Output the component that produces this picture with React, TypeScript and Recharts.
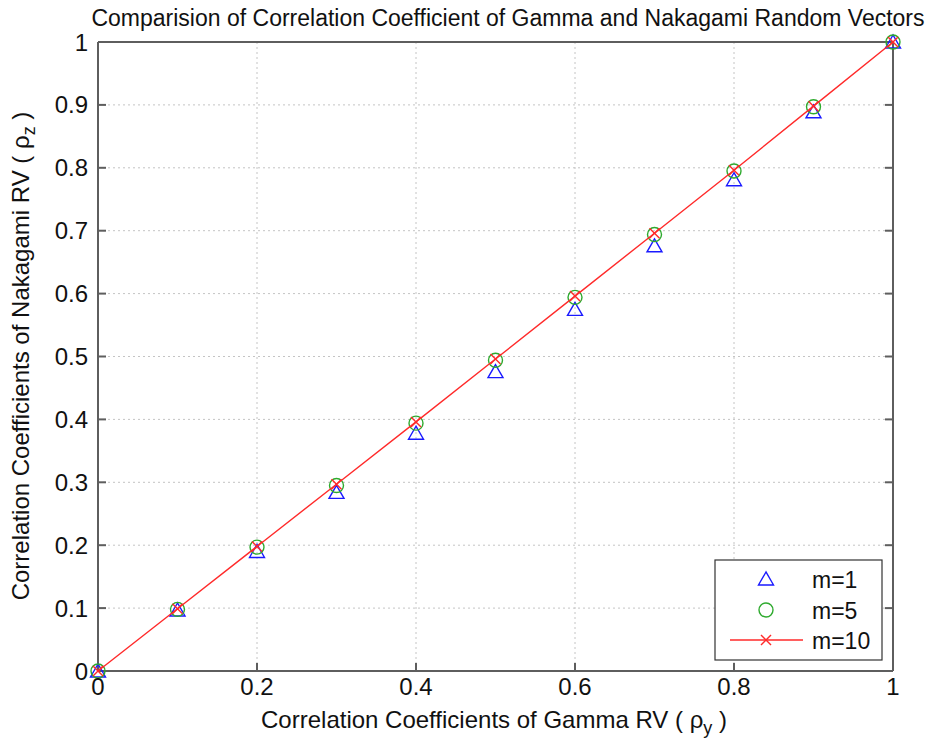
import React from 'react';
import { ScatterChart, Scatter, XAxis, YAxis, CartesianGrid } from 'recharts';

// correlation of the Gamma vectors (x) and the resulting Nakagami correlation (y)
const rhoY = [0, 0.1, 0.2, 0.3, 0.4, 0.5, 0.6, 0.7, 0.8, 0.9, 1];
const rhoZm1 = [0, 0.097, 0.19, 0.284, 0.378, 0.476, 0.575, 0.676, 0.781, 0.889, 1];
const rhoZm5 = [0, 0.098, 0.197, 0.295, 0.394, 0.494, 0.594, 0.694, 0.795, 0.897, 1];
const rhoZm10 = [0, 0.099, 0.198, 0.297, 0.396, 0.496, 0.596, 0.696, 0.796, 0.898, 1];

const xTicks = [0, 0.2, 0.4, 0.6, 0.8, 1];
const yTicks = [0, 0.1, 0.2, 0.3, 0.4, 0.5, 0.6, 0.7, 0.8, 0.9, 1];

const toPoints = (ys: number[]) => rhoY.map((x, i) => ({ x, y: ys[i] }));
const m1 = toPoints(rhoZm1);
const m5 = toPoints(rhoZm5);
const m10 = toPoints(rhoZm10);

const FONT = '"Liberation Sans", Arial, Helvetica, sans-serif';
const AXIS = '#5e5e5e';
const BLUE = '#1a1aff';
const GREEN = '#2eaa2e';
const RED = '#ff2a2a';

const Triangle = ({ cx, cy }: any) => (
  <polygon
    points={`${cx},${cy - 7} ${cx - 7.5},${cy + 6} ${cx + 7.5},${cy + 6}`}
    fill="none"
    stroke={BLUE}
    strokeWidth={1.4}
  />
);

const Ring = ({ cx, cy }: any) => (
  <circle cx={cx} cy={cy} r={7} fill="none" stroke={GREEN} strokeWidth={1.4} />
);

const Cross = ({ cx, cy }: any) => (
  <g stroke={RED} strokeWidth={1.4}>
    <line x1={cx - 5} y1={cy - 5} x2={cx + 5} y2={cy + 5} />
    <line x1={cx - 5} y1={cy + 5} x2={cx + 5} y2={cy - 5} />
  </g>
);

// top/right box axes keep their tick marks but show no labels
const NoLabel = () => <g />;

const tickFont = { fontSize: 24, fill: '#111', fontFamily: FONT };
const axisLine = { stroke: AXIS, strokeWidth: 2 };
const tickLine = { stroke: AXIS, strokeWidth: 2 };

const App = () => (
  <div style={{ position: 'absolute', left: 0, top: 0, width: 938, height: 747, background: '#fff' }}>
    <ScatterChart width={938} height={747} margin={{ top: 41, right: 44, bottom: 46, left: 58 }}>
      <CartesianGrid xAxisId="bottom" yAxisId="left" stroke="#c4c4c4" strokeDasharray="2 3" />
      <XAxis
        xAxisId="bottom"
        dataKey="x"
        type="number"
        domain={[0, 1]}
        ticks={xTicks}
        height={30}
        tickSize={-8}
        tickMargin={15}
        axisLine={axisLine}
        tickLine={tickLine}
        tick={tickFont}
      />
      <XAxis
        xAxisId="top"
        orientation="top"
        type="number"
        domain={[0, 1]}
        ticks={xTicks}
        allowDataOverflow
        height={1}
        tickSize={-8}
        axisLine={axisLine}
        tickLine={tickLine}
        tick={NoLabel}
      />
      <YAxis
        yAxisId="left"
        dataKey="y"
        type="number"
        domain={[0, 1]}
        ticks={yTicks}
        width={40}
        tickSize={-8}
        tickMargin={18}
        axisLine={axisLine}
        tickLine={tickLine}
        tick={tickFont}
      />
      <YAxis
        yAxisId="right"
        orientation="right"
        type="number"
        domain={[0, 1]}
        ticks={yTicks}
        allowDataOverflow
        width={1}
        tickSize={-8}
        axisLine={axisLine}
        tickLine={tickLine}
        tick={NoLabel}
      />
      <Scatter name="m=1" data={m1} xAxisId="bottom" yAxisId="left" shape={Triangle} isAnimationActive={false} />
      <Scatter name="m=5" data={m5} xAxisId="bottom" yAxisId="left" shape={Ring} isAnimationActive={false} />
      <Scatter
        name="m=10"
        data={m10}
        xAxisId="bottom"
        yAxisId="left"
        shape={Cross}
        line={{ stroke: RED, strokeWidth: 1.4 }}
        lineType="joint"
        isAnimationActive={false}
      />
    </ScatterChart>

    {/* title, axis labels and legend box */}
    <svg
      width={938}
      height={747}
      style={{ position: 'absolute', left: 0, top: 0, pointerEvents: 'none' }}
      fontFamily={FONT}
    >
      <text x={508} y={26} textAnchor="middle" fontSize={23} fill="#111">
        Comparision of Correlation Coefficient of Gamma and Nakagami Random Vectors
      </text>
      <text x={494} y={728} textAnchor="middle" fontSize={24} fill="#111">
        Correlation Coefficients of Gamma RV ( ρ
        <tspan fontSize={18} dy={6}>y</tspan>
        <tspan dy={-6}> )</tspan>
      </text>
      <text
        transform="translate(29,356) rotate(-90)"
        textAnchor="middle"
        fontSize={24}
        fill="#111"
      >
        Correlation Coefficients of Nakagami RV ( ρ
        <tspan fontSize={18} dy={6}>z</tspan>
        <tspan dy={-6}> )</tspan>
      </text>

      <g>
        <rect x={715} y={560} width={167} height={100} fill="#fff" stroke="#333" strokeWidth={1.2} />
        <Triangle cx={766} cy={579} />
        <Ring cx={766} cy={610} />
        <line x1={730} y1={640} x2={803} y2={640} stroke={RED} strokeWidth={1.4} />
        <Cross cx={766} cy={640} />
        <text x={812} y={588} fontSize={23} fill="#111">m=1</text>
        <text x={812} y={619} fontSize={23} fill="#111">m=5</text>
        <text x={812} y={649} fontSize={23} fill="#111">m=10</text>
      </g>
    </svg>
  </div>
);

export default App;
